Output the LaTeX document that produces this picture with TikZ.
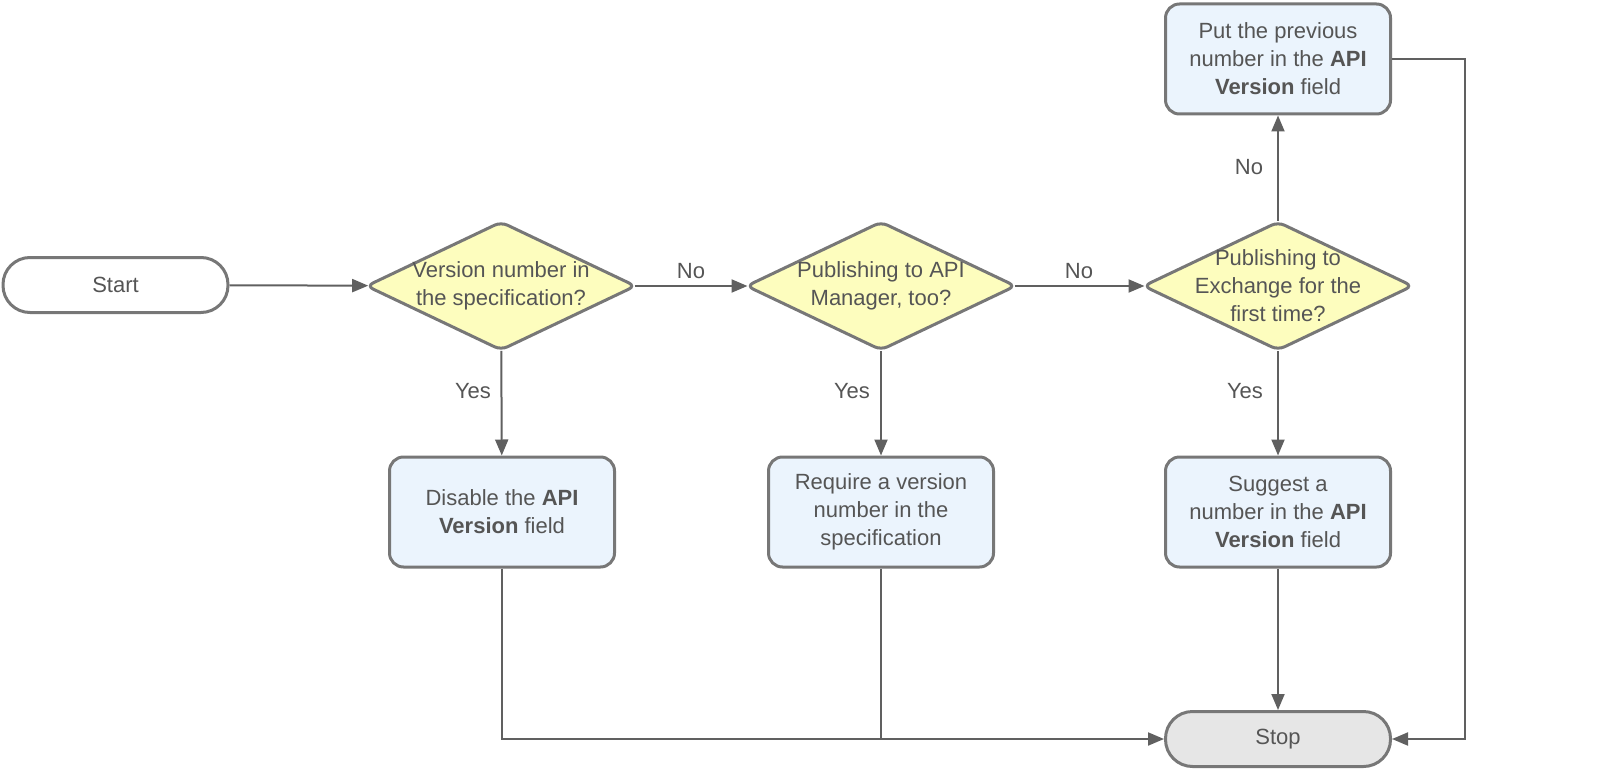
\documentclass[tikz,border=0pt]{standalone}
\usepackage{fontspec}
\setmainfont{Liberation Sans}
\usetikzlibrary{shapes.geometric,arrows.meta}
\definecolor{txtc}{HTML}{555555}
\definecolor{bord}{HTML}{777777}
\definecolor{arrc}{HTML}{606060}
\definecolor{yel}{HTML}{FDFDBE}
\definecolor{blu}{HTML}{EBF4FD}
\definecolor{gry}{HTML}{E6E6E6}
\begin{document}
\begin{tikzpicture}[x=1pt,y=-1pt,
  font=\fontsize{22}{28}\selectfont, text=txtc,
  terminal/.style={draw=bord, line width=3pt, rounded corners=27pt, minimum width=225pt, minimum height=55pt, inner sep=0pt},
  decision/.style={diamond, draw=bord, fill=yel, line width=3pt, rounded corners=7pt, minimum width=270pt, minimum height=129pt, inner sep=0pt, aspect=2.1},
  dtext/.style={align=center, text=txtc},
  process/.style={draw=bord, fill=blu, line width=3pt, rounded corners=14pt, minimum width=225pt, minimum height=110pt, inner sep=0pt, align=center},
  conn/.style={draw=arrc, line width=2pt, -{Triangle[length=16pt,width=13pt]}},
  plain/.style={draw=arrc, line width=2pt},
  lbl/.style={text=txtc, inner sep=0pt}]
\useasboundingbox (0,0) rectangle (1602,770);

\node[terminal, fill=white] (start) at (115.5,285) {Start};
\node[decision, label={[dtext]center:Version number in\\the specification?}] (d1) at (501,286) {};
\node[decision, label={[dtext]center:Publishing to API\\Manager, too?}] (d2) at (881,286) {};
\node[decision, label={[dtext]center:Publishing to\\Exchange for the\\first time?}] (d3) at (1278,286) {};

\node[process] (b1) at (502,512) {Disable the \textbf{API}\\\textbf{Version} field};
\node[process] (b2) at (881,512) {Require a version\\number in the\\specification};
\node[process] (b3) at (1278,512) {Suggest a\\number in the \textbf{API}\\\textbf{Version} field};
\node[process] (bt) at (1278,59) {Put the previous\\number in the \textbf{API}\\\textbf{Version} field};
\node[terminal, fill=gry] (stop) at (1278,739) {Stop};

\coordinate (rc) at (1465,59);

\draw[conn, shorten >=-3pt] (start) -- (d1);
\draw[conn, shorten <=-3pt, shorten >=-3pt] (d1) -- (d2);
\draw[conn, shorten <=-3pt, shorten >=-3pt] (d2) -- (d3);
\draw[conn, shorten <=-1pt] (d3) -- (bt);
\draw[conn, shorten <=-1pt] (d1) -- (b1);
\draw[conn, shorten <=-1pt] (d2) -- (b2);
\draw[conn, shorten <=-1pt] (d3) -- (b3);
\draw[conn] (b3) -- (stop);
\draw[conn] (b1.south) |- (stop.west);
\draw[plain] (b2.south) -- (b2.south |- stop.west);
\draw[conn] (bt.east) -- (rc) |- (stop.east);

\node[lbl] (l1) at (691,271) {No};
\node[lbl] (l2) at (1079,271) {No};
\node[lbl] (l3) at (1249,167) {No};
\node[lbl] (l4) at (473,391) {Yes};
\node[lbl] (l5) at (852,391) {Yes};
\node[lbl] (l6) at (1245,391) {Yes};
\end{tikzpicture}
\end{document}
